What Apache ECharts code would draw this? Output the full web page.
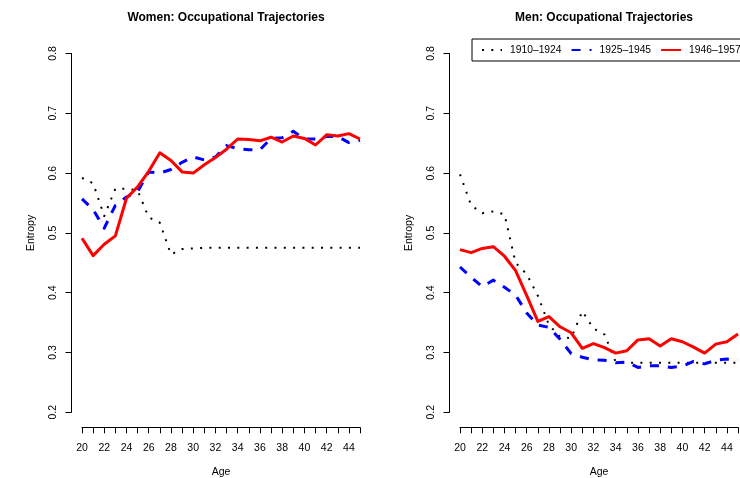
<!DOCTYPE html>
<html>
<head>
<meta charset="utf-8">
<script src="https://cdn.jsdelivr.net/npm/echarts@6/dist/echarts.min.js"></script>
<style>
  html, body { margin: 0; padding: 0; background: #ffffff; }
  #chart { width: 740px; height: 478px; }
</style>
</head>
<body>
<div id="chart"></div>
<script>
// Ages on the horizontal axis
const ages = [20, 21, 22, 23, 24, 25, 26, 27, 28, 29, 30, 31, 32, 33, 34, 35, 36, 37, 38, 39, 40, 41, 42, 43, 44, 45];

// Birth cohorts
const cohorts = ['1910–1924', '1925–1945', '1946–1957'];

// Entropy of occupational trajectories, women
const women1910 = [0.592, 0.583, 0.528, 0.574, 0.574, 0.571, 0.526, 0.517, 0.464, 0.473, 0.474, 0.475, 0.475,
                   0.475, 0.475, 0.475, 0.475, 0.475, 0.475, 0.475, 0.475, 0.475, 0.475, 0.475, 0.475, 0.475];
const women1925 = [0.557, 0.539, 0.508, 0.546, 0.560, 0.569, 0.602, 0.600, 0.606, 0.618, 0.627, 0.622, 0.627,
                   0.646, 0.641, 0.639, 0.639, 0.658, 0.659, 0.670, 0.657, 0.657, 0.661, 0.661, 0.651, 0.655];
const women1946 = [0.491, 0.462, 0.481, 0.495, 0.558, 0.577, 0.603, 0.634, 0.621, 0.602, 0.600, 0.614, 0.626,
                   0.640, 0.657, 0.656, 0.654, 0.660, 0.652, 0.662, 0.658, 0.647, 0.664, 0.662, 0.666, 0.657];

// Entropy of occupational trajectories, men
const men1910 = [0.598, 0.546, 0.533, 0.536, 0.531, 0.450, 0.431, 0.395, 0.346, 0.326, 0.324, 0.369, 0.340,
                 0.330, 0.284, 0.283, 0.283, 0.283, 0.283, 0.283, 0.283, 0.283, 0.283, 0.283, 0.283, 0.283];
const men1925 = [0.443, 0.426, 0.410, 0.421, 0.409, 0.396, 0.366, 0.346, 0.342, 0.322, 0.298, 0.292, 0.288,
                 0.287, 0.283, 0.284, 0.275, 0.278, 0.278, 0.275, 0.277, 0.285, 0.281, 0.287, 0.289, 0.288];
const men1946 = [0.472, 0.467, 0.474, 0.477, 0.461, 0.437, 0.395, 0.352, 0.360, 0.343, 0.333, 0.307, 0.315,
                 0.308, 0.299, 0.303, 0.321, 0.323, 0.311, 0.323, 0.318, 0.309, 0.299, 0.314, 0.318, 0.331];

// Axis ticks
const yTicks = [0.2, 0.3, 0.4, 0.5, 0.6, 0.7, 0.8];
const xLabelAges = [20, 22, 24, 26, 28, 30, 32, 34, 36, 38, 40, 42, 44];

const panelTitles = ['Women: Occupational Trajectories', 'Men: Occupational Trajectories'];

const FONT = '"Liberation Sans", Arimo, Helvetica, Arial, sans-serif';
const INK = '#000000';

// Line looks per cohort: dotted black, dashed blue, solid red
const cohortStyles = [
  { color: '#000000', width: 2, type: [2, 7.3] },
  { color: '#0000ff', width: 3, type: [9, 9] },
  { color: '#ff0000', width: 3, type: 'solid' }
];

function pairs(values) {
  return ages.map((a, i) => [a, values[i]]);
}

function xAxisFor(gridIndex) {
  return {
    type: 'value', gridIndex: gridIndex,
    min: ages[0], max: ages[ages.length - 1], interval: 1,
    offset: 15,
    name: 'Age', nameLocation: 'middle', nameGap: 39,
    nameTextStyle: { fontFamily: FONT, fontSize: 10.5, color: INK },
    axisLine: { show: true, lineStyle: { color: INK, width: 1 } },
    axisTick: { show: true, length: 6, lineStyle: { color: INK, width: 1 } },
    axisLabel: {
      fontFamily: FONT, fontSize: 10.5, color: INK, margin: 15,
      formatter: v => (xLabelAges.indexOf(v) >= 0 ? String(v) : '')
    },
    splitLine: { show: false }
  };
}

function yAxisFor(gridIndex) {
  return {
    type: 'value', gridIndex: gridIndex,
    min: yTicks[0], max: yTicks[yTicks.length - 1], interval: 0.1,
    offset: 10.5,
    name: 'Entropy', nameLocation: 'middle', nameGap: 35, nameRotate: 90,
    nameTextStyle: { fontFamily: FONT, fontSize: 10.5, color: INK },
    axisLine: { show: true, lineStyle: { color: INK, width: 1 } },
    axisTick: { show: true, length: 6, lineStyle: { color: INK, width: 1 } },
    axisLabel: {
      fontFamily: FONT, fontSize: 10.5, color: INK, margin: 13, rotate: 90,
      formatter: v => v.toFixed(1)
    },
    splitLine: { show: false }
  };
}

function seriesFor(gridIndex, dataSets) {
  return dataSets.map((vals, k) => ({
    name: cohorts[k],
    type: 'line',
    xAxisIndex: gridIndex, yAxisIndex: gridIndex,
    data: pairs(vals),
    symbol: 'none',
    smooth: false,
    clip: false,
    lineStyle: {
      color: cohortStyles[k].color,
      width: cohortStyles[k].width,
      type: cohortStyles[k].type,
      cap: 'butt', join: 'round'
    },
    itemStyle: { color: cohortStyles[k].color },
    z: 2 + k
  }));
}

const chart = echarts.init(document.getElementById('chart'), null, { renderer: 'canvas' });

chart.setOption({
  animation: false,
  backgroundColor: '#ffffff',
  textStyle: { fontFamily: FONT },
  title: [
    { text: panelTitles[0], left: 221, top: 7, textAlign: 'center',
      textStyle: { fontFamily: FONT, fontSize: 12, fontWeight: 'bold', color: INK } },
    { text: panelTitles[1], left: 599, top: 7, textAlign: 'center',
      textStyle: { fontFamily: FONT, fontSize: 12, fontWeight: 'bold', color: INK } }
  ],
  legend: {
    data: cohorts,
    left: 472, top: 39, width: 420,
    orient: 'horizontal',
    itemWidth: 20, itemHeight: 12, itemGap: 9,
    padding: [6, 8, 6, 9],
    borderColor: INK, borderWidth: 1, borderRadius: 0,
    itemStyle: { opacity: 0 },
    textStyle: { fontFamily: FONT, fontSize: 10.3, color: INK, padding: [0, 0, 0, 3] },
    selectedMode: false
  },
  grid: [
    { left: 82, top: 53.5, width: 278, height: 358.8, outerBoundsMode: 'none' },
    { left: 460, top: 53.5, width: 278, height: 358.8, outerBoundsMode: 'none' }
  ],
  xAxis: [xAxisFor(0), xAxisFor(1)],
  yAxis: [yAxisFor(0), yAxisFor(1)],
  series: [].concat(
    seriesFor(0, [women1910, women1925, women1946]),
    seriesFor(1, [men1910, men1925, men1946])
  )
});
</script>
</body>
</html>
